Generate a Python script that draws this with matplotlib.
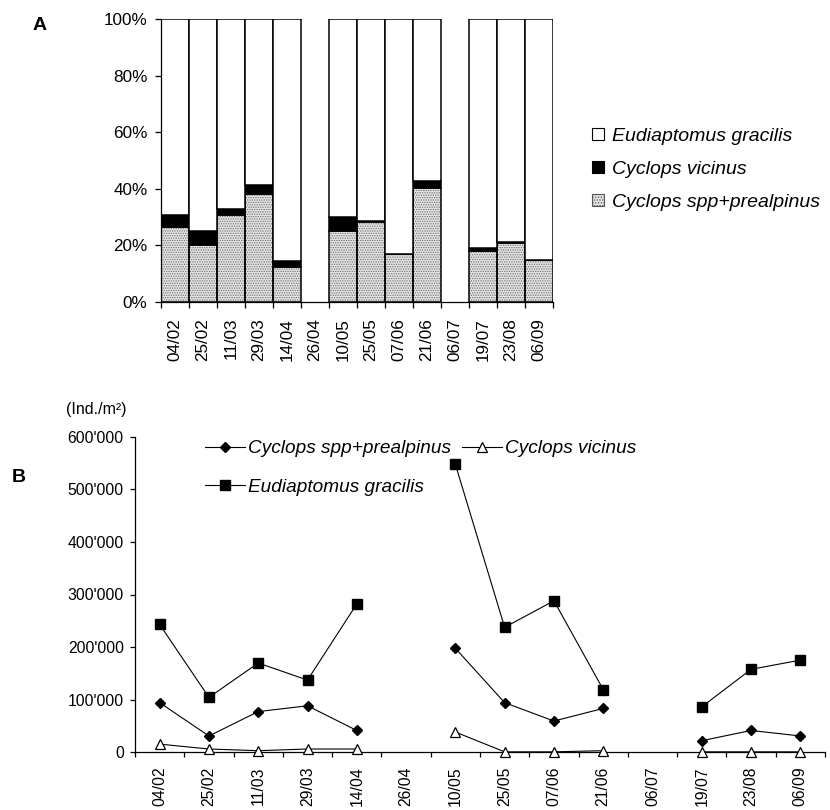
import matplotlib
matplotlib.use('Agg')
import matplotlib.pyplot as plt
from matplotlib.patches import Patch
from matplotlib.ticker import FixedLocator, FuncFormatter
import numpy as np

plt.rcParams['font.family'] = ['Liberation Sans', 'DejaVu Sans']
plt.rcParams['hatch.linewidth'] = 0.6

dates = ['04/02', '25/02', '11/03', '29/03', '14/04', '26/04', '10/05',
         '25/05', '07/06', '21/06', '06/07', '19/07', '23/08', '06/09']
nan = np.nan

# panel A: share of each group (%)
spp_pct = [26.6, 20.1, 30.8, 38.3, 12.5, nan, 25.0, 28.4, 16.8, 40.3, nan, 18.1, 21.0, 14.8]
vic_pct = [4.0, 4.9, 1.9, 3.1, 2.0, nan, 5.2, 0.2, 0.1, 2.5, nan, 1.1, 0.1, 0.1]

# panel B: densities (Ind./m2)
spp_dens = [94000, 30500, 77000, 88000, 41000, nan, 197500, 94000, 59000, 83000, nan, 21500, 41000, 30500]
vic_dens = [15000, 5700, 2500, 5700, 5700, nan, 38000, 300, 300, 2500, nan, 300, 300, 300]
eud_dens = [243000, 104000, 169500, 137000, 282000, nan, 548000, 237500, 288000, 119000, nan, 86000, 157500, 175000]

spp_pct = np.array(spp_pct)
vic_pct = np.array(vic_pct)
eud_pct = 100 - spp_pct - vic_pct
x = np.arange(len(dates))

fig = plt.figure(figsize=(8.3, 8.1), dpi=100)

# ---------------- A ----------------
axA = fig.add_axes([161/830, 1-302/810, 392/830, 283/810])
axA.bar(x, spp_pct, width=1.0, color='#e4e4e4', edgecolor='#6a6a6a', hatch='.......', linewidth=0)
axA.bar(x, spp_pct, width=1.0, fill=False, edgecolor='black', linewidth=1.1)
axA.bar(x, vic_pct, bottom=spp_pct, width=1.0, color='black', edgecolor='black', linewidth=1.1)
axA.bar(x, eud_pct, bottom=spp_pct + vic_pct, width=1.0, color='white', edgecolor='black', linewidth=1.1)
axA.set_xlim(-0.5, len(dates) - 0.5)
axA.set_ylim(0, 100)
axA.spines[['top', 'right']].set_visible(False)
axA.set_yticks(range(0, 101, 20))
axA.set_yticklabels([f'{v}%' for v in range(0, 101, 20)], fontsize=12.3)
axA.tick_params(axis='y', direction='out', length=4.2, width=0.9, pad=5.5)
axA.xaxis.set_major_locator(FixedLocator(np.arange(-0.5, len(dates), 1.0)))
axA.xaxis.set_major_formatter(FuncFormatter(lambda v, p: ''))
axA.set_xticks(x, dates, minor=True, rotation=90, fontsize=12.3)
axA.tick_params(axis='x', which='major', direction='out', length=4, width=0.9)
axA.tick_params(axis='x', which='minor', length=0, pad=11.5)
for s in axA.spines.values():
    s.set_linewidth(0.9)

hA = [Patch(facecolor='white', edgecolor='black', linewidth=0.8),
      Patch(facecolor='black', edgecolor='black', linewidth=0.8),
      Patch(facecolor='#e4e4e4', edgecolor='#555555', hatch='......', linewidth=0.8)]
fig.legend(hA, ['Eudiaptomus gracilis', 'Cyclops vicinus', 'Cyclops spp+prealpinus'],
           loc='upper left', bbox_to_anchor=(592/830, 1-128/810), frameon=False,
           prop={'style': 'italic', 'size': 14}, handlelength=0.6, handleheight=0.6,
           handletextpad=0.45, labelspacing=0.82, borderpad=0, borderaxespad=0)
fig.text(33/830, 1-25/810, 'A', fontsize=14, fontweight='bold', va='center')

# ---------------- B ----------------
axB = fig.add_axes([135/830, 1-752/810, 690/830, 315/810])
l1, = axB.plot(x, spp_dens, color='black', lw=0.8, marker='D', ms=5.5,
               mfc='black', mec='black', clip_on=False, zorder=3)
l2, = axB.plot(x, vic_dens, color='black', lw=0.8, marker='^', ms=7,
               mfc='white', mec='black', mew=0.9, clip_on=False, zorder=3)
l3, = axB.plot(x, eud_dens, color='black', lw=0.8, marker='s', ms=6.5,
               mfc='black', mec='black', clip_on=False, zorder=3)
axB.set_xlim(-0.5, len(dates) - 0.5)
axB.set_ylim(0, 600000)
axB.spines[['top', 'right']].set_visible(False)
for s in axB.spines.values():
    s.set_linewidth(0.9)
axB.set_yticks(range(0, 600001, 100000))
axB.yaxis.set_major_formatter(FuncFormatter(lambda v, p: f'{int(v):,}'.replace(',', "'")))
axB.tick_params(axis='y', direction='out', length=3.6, width=0.9, pad=4.5, labelsize=11.3)
axB.xaxis.set_major_locator(FixedLocator(np.arange(-0.5, len(dates), 1.0)))
axB.xaxis.set_major_formatter(FuncFormatter(lambda v, p: ''))
axB.set_xticks(x, dates, minor=True, rotation=90, fontsize=11.3)
axB.tick_params(axis='x', which='major', direction='out', length=3.6, width=0.9)
axB.tick_params(axis='x', which='minor', length=0, pad=10.5)

fig.legend([l1, l3, l2], ['Cyclops spp+prealpinus', 'Eudiaptomus gracilis', 'Cyclops vicinus'],
           loc='upper left', bbox_to_anchor=(205/830, 1-440/810), ncol=2, frameon=False,
           prop={'style': 'italic', 'size': 13.7}, handlelength=2.1, handletextpad=0.15,
           columnspacing=0.6, labelspacing=1.12, borderpad=0, borderaxespad=0)
fig.text(66/830, 1-409/810, '(Ind./m²)', fontsize=11.5, va='center')
fig.text(12/830, 1-478/810, 'B', fontsize=14, fontweight='bold', va='center')

fig.savefig('out.png', dpi=100)
